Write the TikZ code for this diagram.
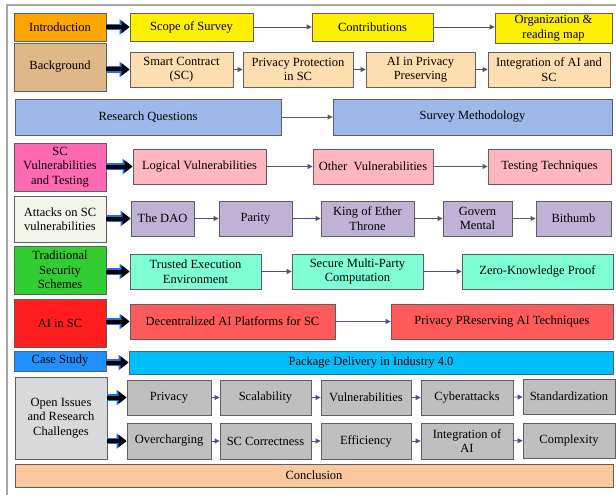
\documentclass[tikz,border=0pt]{standalone}
\usepackage{fontspec}
\setmainfont{Liberation Serif}
\usetikzlibrary{arrows.meta}
\usepackage{xcolor}

\definecolor{boxline}{HTML}{5F5F5F}
\definecolor{linkc}{HTML}{5A4A7E}
\definecolor{linkg}{HTML}{5F5F5F}
\definecolor{framec}{HTML}{A6A6A6}
\definecolor{cIntro}{HTML}{FFA500}
\definecolor{cIntroS}{HTML}{FFEF00}
\definecolor{cBack}{HTML}{DEB887}
\definecolor{cBackS}{HTML}{FDDEB0}
\definecolor{cRQ}{HTML}{9FB8EA}
\definecolor{cVuln}{HTML}{FF69B4}
\definecolor{cVulnS}{HTML}{FFB6C1}
\definecolor{cAtt}{HTML}{F2F5EA}
\definecolor{cAttS}{HTML}{BFB2D6}
\definecolor{cTrad}{HTML}{32CD32}
\definecolor{cTradS}{HTML}{7FFFD4}
\definecolor{cAI}{HTML}{FF1C1C}
\definecolor{cAIS}{HTML}{FF5A5A}
\definecolor{cCase}{HTML}{1E90FF}
\definecolor{cCaseS}{HTML}{00BFFF}
\definecolor{cOpen}{HTML}{D9D9D9}
\definecolor{cOpenS}{HTML}{BFBFBF}
\definecolor{cConc}{HTML}{FAC89C}
\definecolor{bigblue}{HTML}{1C6FE8}

\begin{document}
\begin{tikzpicture}[x=1pt, y=-1pt,
  block/.style={rectangle, draw=boxline, line width=0.9pt, align=center,
                inner sep=1pt, font=\fontsize{12.5}{14.5}\selectfont},
  arrow/.style={-{Triangle[length=5pt,width=5pt]}, draw=linkc, line width=0.9pt},
  garrow/.style={arrow, draw=linkg},
  bigarrow/.style={-{Triangle[length=8pt,width=12pt]}, black, line width=4pt,
                   preaction={draw=bigblue, line width=6.5pt,
                              -{Triangle[length=10pt,width=15pt]}}},
]
  \useasboundingbox (0,0) rectangle (616,495);
  % frame
  \draw[framec, line width=1.5pt] (7,495) -- (7,5) -- (616,5);

  % Introduction
  \node[block, fill=cIntro,  minimum width=92,  minimum height=28] (intro)   at (60, 27)    {Introduction};
  \node[block, fill=cIntroS, minimum width=123, minimum height=28] (scope)   at (191.5, 27) {Scope of Survey};
  \node[block, fill=cIntroS, minimum width=121, minimum height=28] (contrib) at (372.5, 27) {Contributions};
  \node[block, fill=cIntroS, minimum width=117, minimum height=30] (orgmap)  at (553.5, 28) {Organization \&\\reading map};

  % Background
  \node[block, fill=cBack,  minimum width=92,  minimum height=48] (backgr) at (60, 67)     {Background};
  \node[block, fill=cBackS, minimum width=103, minimum height=35] (sc)     at (181.5, 69.5) {Smart Contract\\(SC)};
  \node[block, fill=cBackS, minimum width=110, minimum height=35] (privsc) at (298, 69.5)   {Privacy Protection\\in SC};
  \node[block, fill=cBackS, minimum width=109, minimum height=35] (aipriv) at (420.5, 69.5) {AI in Privacy\\Preserving};
  \node[block, fill=cBackS, minimum width=122, minimum height=35] (integ)  at (549, 69.5)   {Integration of AI and\\SC};

  % Research questions
  \node[block, fill=cRQ, minimum width=266, minimum height=36] (rq)     at (148, 117)   {Research Questions};
  \node[block, fill=cRQ, minimum width=279, minimum height=36] (survey) at (472.5, 117) {Survey Methodology};

  % SC vulnerabilities
  \node[block, fill=cVuln,  minimum width=92,  minimum height=48] (vuln)    at (60, 167)      {SC\\Vulnerabilities\\and Testing};
  \node[block, fill=cVulnS, minimum width=133, minimum height=35] (logical) at (199.5, 166.5) {Logical Vulnerabilities};
  \node[block, fill=cVulnS, minimum width=120, minimum height=35] (other)   at (373, 166.5)   {Other~~Vulnerabilities};
  \node[block, fill=cVulnS, minimum width=123, minimum height=35] (testing) at (549.5, 166.5) {Testing Techniques};

  % Attacks
  \node[block, fill=cAtt,  minimum width=92, minimum height=46] (attacks) at (60, 219)      {Attacks on SC\\vulnerabilities};
  \node[block, fill=cAttS, minimum width=63, minimum height=35] (dao)     at (162.5, 218.5) {The DAO};
  \node[block, fill=cAttS, minimum width=73, minimum height=35] (parity)  at (255.5, 218.5) {Parity};
  \node[block, fill=cAttS, minimum width=93, minimum height=35] (kingeth) at (367.5, 218.5) {King of Ether\\Throne};
  \node[block, fill=cAttS, minimum width=69, minimum height=35] (govern)  at (477.5, 218.5) {Govern\\Mental};
  \node[block, fill=cAttS, minimum width=75, minimum height=35] (bithumb) at (573.5, 218.5) {Bithumb};

  % Traditional security
  \node[block, fill=cTrad,  minimum width=92,  minimum height=48] (tradsec) at (60, 270)      {Traditional\\Security\\Schemes};
  \node[block, fill=cTradS, minimum width=131, minimum height=35] (tee)     at (195.5, 271.5) {Trusted Execution\\Environment};
  \node[block, fill=cTradS, minimum width=131, minimum height=35] (smpc)    at (357.5, 271.5) {Secure Multi-Party\\Computation};
  \node[block, fill=cTradS, minimum width=151, minimum height=35] (zkp)     at (537.5, 271.5) {Zero-Knowledge Proof};

  % AI in SC
  \node[block, fill=cAI,  minimum width=92,  minimum height=48] (aisc) at (60, 323)      {AI in SC};
  \node[block, fill=cAIS, minimum width=205, minimum height=35] (daip) at (232.5, 321.5) {Decentralized AI Platforms for SC};
  \node[block, fill=cAIS, minimum width=222, minimum height=35] (ppai) at (502, 321.5)   {Privacy PReserving AI Techniques};

  % Case study
  \node[block, fill=cCase,  minimum width=92,  minimum height=20] (casest) at (60, 361)    {Case Study};
  \node[block, fill=cCaseS, minimum width=484, minimum height=23] (pkg)    at (371, 362.5) {Package Delivery in Industry 4.0};

  % Open issues
  \node[block, fill=cOpen,  minimum width=92, minimum height=82] (openis)  at (61, 418)      {Open Issues\\and Research\\Challenges};
  \node[block, fill=cOpenS, minimum width=84, minimum height=35] (privacy) at (169, 397.5)   {Privacy};
  \node[block, fill=cOpenS, minimum width=91, minimum height=35] (scal)    at (265.5, 397.5) {Scalability};
  \node[block, fill=cOpenS, minimum width=90, minimum height=35] (vulns)   at (366, 397.5)   {Vulnerabilities};
  \node[block, fill=cOpenS, minimum width=92, minimum height=35] (cyber)   at (467, 397.5)   {Cyberattacks};
  \node[block, fill=cOpenS, minimum width=92, minimum height=35] (stand)   at (569, 396.5)   {Standardization};
  \node[block, fill=cOpenS, minimum width=84, minimum height=36] (overch)  at (169, 441)     {Overcharging};
  \node[block, fill=cOpenS, minimum width=91, minimum height=36] (sccorr)  at (265.5, 441)   {SC Correctness};
  \node[block, fill=cOpenS, minimum width=90, minimum height=36] (effic)   at (366, 441)     {Efficiency};
  \node[block, fill=cOpenS, minimum width=92, minimum height=36] (integai) at (467, 441)     {Integration of\\AI};
  \node[block, fill=cOpenS, minimum width=92, minimum height=35] (complex) at (569, 440.5)   {Complexity};

  % Conclusion
  \node[block, fill=cConc, minimum width=598, minimum height=23] (concl) at (314, 475.5) {Conclusion};

  % Big arrows
  \draw[bigarrow] (intro.east |- scope.west)     -- (scope.west);
  \draw[bigarrow] (backgr.east |- sc.west)       -- (sc.west);
  \draw[bigarrow] (vuln.east |- logical.west)    -- (logical.west);
  \draw[bigarrow] (attacks.east |- dao.west)     -- (dao.west);
  \draw[bigarrow] (tradsec.east |- tee.west)     -- (tee.west);
  \draw[bigarrow] (aisc.east |- daip.west)       -- (daip.west);
  \draw[bigarrow] (casest.east |- pkg.west)      -- (pkg.west);
  \draw[bigarrow] (openis.east |- privacy.west)  -- (privacy.west);
  \draw[bigarrow] (openis.east |- overch.west)   -- (overch.west);

  % Arrows
  \draw[arrow]  (scope)   -- (contrib);
  \draw[arrow]  (contrib) -- (orgmap.west |- contrib);
  \draw[arrow]  (sc)      -- (privsc);
  \draw[arrow]  (privsc)  -- (aipriv);
  \draw[arrow]  (aipriv)  -- (integ);
  \draw[garrow] (rq)      -- (survey);
  \draw[arrow]  (logical) -- (other);
  \draw[garrow] (other)   -- (testing);
  \draw[arrow]  (dao)     -- (parity);
  \draw[arrow]  (parity)  -- (kingeth);
  \draw[arrow]  (kingeth) -- (govern);
  \draw[garrow] (govern)  -- (bithumb);
  \draw[arrow]  (tee)     -- (smpc);
  \draw[arrow]  (smpc)    -- (zkp);
  \draw[arrow]  (daip)    -- (ppai);
  \draw[arrow]  (privacy) -- (scal);
  \draw[arrow]  (scal)    -- (vulns);
  \draw[arrow]  (vulns)   -- (cyber);
  \draw[arrow]  (cyber)   -- (stand);
  \draw[arrow]  (overch)  -- (sccorr);
  \draw[arrow]  (sccorr)  -- (effic);
  \draw[arrow]  (effic)   -- (integai);
  \draw[arrow]  (integai) -- (complex);
\end{tikzpicture}
\end{document}
